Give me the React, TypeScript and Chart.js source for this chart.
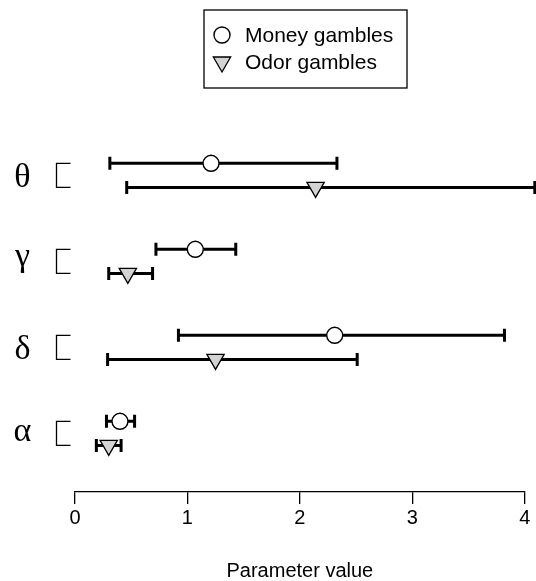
import React, { useEffect, useRef } from "react";
import { Chart, registerables } from "chart.js";

Chart.register(...registerables);

const params = ["θ", "γ", "δ", "α"];
const seriesNames = ["Money gambles", "Odor gambles"];
const moneyMean = [1.21, 1.07, 2.31, 0.4];
const moneyLow = [0.31, 0.72, 0.92, 0.28];
const moneyHigh = [2.33, 1.43, 3.82, 0.53];
const odorMean = [2.14, 0.47, 1.25, 0.3];
const odorLow = [0.46, 0.3, 0.29, 0.19];
const odorHigh = [4.09, 0.69, 2.51, 0.41];
const xTicks = [0, 1, 2, 3, 4];

const OFFSET = 0.14;
const rowPos = (i: number) => params.length - i;

const errorBarPlugin = {
  id: "errorBars",
  beforeDatasetsDraw(chart: any) {
    const { ctx, scales } = chart;
    const xs = scales.x;
    const ys = scales.y;
    chart.data.datasets.forEach((ds: any) => {
      ds.data.forEach((pt: any, i: number) => {
        const y = ys.getPixelForValue(pt.y);
        const x1 = xs.getPixelForValue(ds.errLow[i]);
        const x2 = xs.getPixelForValue(ds.errHigh[i]);
        ctx.save();
        ctx.strokeStyle = "#000";
        ctx.lineWidth = 3;
        ctx.lineCap = "butt";
        ctx.beginPath();
        ctx.moveTo(x1, y);
        ctx.lineTo(x2, y);
        ctx.moveTo(x1, y - 6.5);
        ctx.lineTo(x1, y + 6.5);
        ctx.moveTo(x2, y - 6.5);
        ctx.lineTo(x2, y + 6.5);
        ctx.stroke();
        ctx.restore();
      });
    });
    // brackets and greek labels
    const left = chart.chartArea.left;
    params.forEach((p, i) => {
      const yTop = ys.getPixelForValue(rowPos(i) + OFFSET);
      const yBot = ys.getPixelForValue(rowPos(i) - OFFSET);
      const yc = ys.getPixelForValue(rowPos(i));
      ctx.save();
      ctx.strokeStyle = "#000";
      ctx.lineWidth = 1.3;
      ctx.beginPath();
      ctx.moveTo(left - 4.5, yTop);
      ctx.lineTo(left - 18.5, yTop);
      ctx.lineTo(left - 18.5, yBot);
      ctx.lineTo(left - 4.5, yBot);
      ctx.stroke();
      ctx.fillStyle = "#000";
      ctx.font = '34px "Liberation Serif", "DejaVu Serif", serif';
      ctx.textAlign = "center";
      ctx.textBaseline = "alphabetic";
      const m = ctx.measureText(p);
      const asc = m.actualBoundingBoxAscent;
      const desc = m.actualBoundingBoxDescent;
      const baseline = yc + (asc - desc) / 2;
      ctx.fillText(p, left - 52.5, baseline);
      ctx.restore();
    });
  },
  afterDraw(chart: any) {
    const { ctx } = chart;
    ctx.save();
    ctx.strokeStyle = "#000";
    ctx.lineWidth = 1.3;
    ctx.strokeRect(204, 10, 203, 78);
    const rows = [35, 62];
    chart.data.datasets.forEach((ds: any, k: number) => {
      const y = rows[k];
      ctx.save();
      ctx.fillStyle = ds.backgroundColor;
      ctx.strokeStyle = ds.borderColor;
      ctx.lineWidth = ds.borderWidth;
      ctx.beginPath();
      if (ds.pointStyle === "circle") {
        ctx.arc(222, y, ds.pointRadius, 0, Math.PI * 2);
      } else {
        const r = ds.pointRadius;
        ctx.moveTo(222, y + r);
        ctx.lineTo(222 - r * Math.sin(Math.PI / 3), y - r / 2);
        ctx.lineTo(222 + r * Math.sin(Math.PI / 3), y - r / 2);
        ctx.closePath();
      }
      ctx.fill();
      ctx.stroke();
      ctx.restore();
      ctx.fillStyle = "#000";
      ctx.font = '21px "Liberation Sans", Arial, sans-serif';
      ctx.textAlign = "left";
      ctx.textBaseline = "middle";
      ctx.fillText(ds.label, 245, y + 1);
    });
    ctx.restore();
  },
};

export default function App() {
  const ref = useRef<HTMLCanvasElement | null>(null);
  useEffect(() => {
    if (!ref.current) return;
    const chart = new Chart(ref.current, {
      type: "scatter",
      data: {
        datasets: [
          {
            label: seriesNames[0],
            data: moneyMean.map((v, i) => ({ x: v, y: rowPos(i) + OFFSET })),
            errLow: moneyLow,
            errHigh: moneyHigh,
            pointStyle: "circle",
            pointRadius: 8,
            backgroundColor: "#ffffff",
            borderColor: "#000000",
            borderWidth: 1.4,
          } as any,
          {
            label: seriesNames[1],
            data: odorMean.map((v, i) => ({ x: v, y: rowPos(i) - OFFSET })),
            errLow: odorLow,
            errHigh: odorHigh,
            pointStyle: "triangle",
            rotation: 180,
            pointRadius: 10,
            backgroundColor: "#d3d3d3",
            borderColor: "#000000",
            borderWidth: 1.3,
          } as any,
        ],
      },
      options: {
        animation: false,
        responsive: false,
        layout: { padding: { left: 75, right: 10, top: 100, bottom: 0 } },
        plugins: { legend: { display: false }, tooltip: { enabled: false } },
        scales: {
          x: {
            type: "linear",
            min: 0,
            max: 4,
            afterBuildTicks: (scale: any) => {
              scale.ticks = xTicks.map((v) => ({ value: v }));
            },
            afterFit: (scale: any) => {
              scale.height = 89;
              scale.paddingLeft = 0;
              scale.paddingRight = 0;
            },
            border: { display: true, color: "#000", width: 1.3 },
            grid: {
              display: true,
              drawOnChartArea: false,
              drawTicks: true,
              tickLength: 12,
              color: "#000",
              lineWidth: 1.3,
            },
            ticks: {
              color: "#000",
              padding: 2,
              maxRotation: 0,
              font: { family: '"Liberation Sans", Arial, sans-serif', size: 20 },
              callback: (v: any) => String(v),
            },
            title: {
              display: true,
              text: "Parameter value",
              color: "#000",
              padding: { top: 0, bottom: -2 },
              font: { family: '"Liberation Sans", Arial, sans-serif', size: 20 },
            },
          },
          y: {
            type: "linear",
            display: false,
            min: 0.318,
            max: 4.876,
          },
        },
      },
      plugins: [errorBarPlugin],
    } as any);
    return () => chart.destroy();
  }, []);
  return (
    <div style={{ position: "absolute", left: 0, top: 0, width: 536, height: 581, background: "#fff" }}>
      <canvas ref={ref} width={536} height={581} />
    </div>
  );
}
